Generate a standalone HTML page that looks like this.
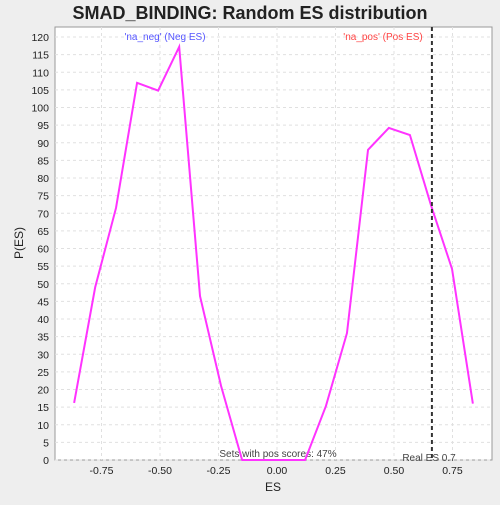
<!DOCTYPE html>
<html><head><meta charset="utf-8"><style>
body{margin:0;background:#eeeeee;font-family:"Liberation Sans","DejaVu Sans",sans-serif}
</style></head><body>
<svg width="500" height="500" xmlns="http://www.w3.org/2000/svg">
<rect x="0" y="0" width="500" height="500" fill="#eeeeee"/>
<text x="250" y="19" text-anchor="middle" font-size="18" font-weight="bold" fill="#222">SMAD_BINDING: Random ES distribution</text>
<rect x="55" y="27" width="437" height="433" fill="#fff" stroke="#999"/>
<g id="grid"></g><g id="yt"></g><g id="xt"></g>
<text x="165" y="40" text-anchor="middle" font-size="10" fill="#5555ff">'na_neg' (Neg ES)</text>
<text x="383" y="40" text-anchor="middle" font-size="10" fill="#ff4444">'na_pos' (Pos ES)</text>
<text x="278" y="457" text-anchor="middle" font-size="10" fill="#444">Sets with pos scores: 47%</text>
<text x="429" y="461" text-anchor="middle" font-size="10" fill="#444">Real ES 0.7</text>
<polyline id="line" fill="none" stroke="#ff33ff" stroke-width="2"/>
<line id="real" y1="27" y2="460" stroke="#333" stroke-width="2" stroke-dasharray="4,3"/>
<text x="273" y="491" text-anchor="middle" font-size="12" fill="#222">ES</text>
<text x="23" y="243" text-anchor="middle" font-size="12" fill="#222" transform="rotate(-90 23 243)">P(ES)</text>
</svg>
<script>
const esValues=[-0.867,-0.777,-0.688,-0.598,-0.508,-0.418,-0.329,-0.239,-0.149,-0.06,0.03,0.12,0.209,0.299,0.389,0.478,0.568,0.658,0.748,0.837];
const pValues=[16.2,49,71.5,107,104.8,117.2,46.5,21,0,0,0,0,15.3,36,88,94.2,92.2,72.3,54.2,16];
const xTicks=[-0.75,-0.5,-0.25,0,0.25,0.5,0.75];
const xTickLabels=["-0.75","-0.50","-0.25","0.00","0.25","0.50","0.75"];
const yTicks=[0,5,10,15,20,25,30,35,40,45,50,55,60,65,70,75,80,85,90,95,100,105,110,115,120];
const realES=0.662;
const NS="http://www.w3.org/2000/svg";
const X=v=>277+v*234, Y=v=>460-v*3.525;
function mk(t,a,p){const e=document.createElementNS(NS,t);for(const k in a)e.setAttribute(k,a[k]);p.appendChild(e);return e;}
const g=document.getElementById('grid'),yt=document.getElementById('yt'),xt=document.getElementById('xt');
yTicks.forEach(v=>{
 const l=mk('line',{x1:55,x2:492,y1:Y(v),y2:Y(v),stroke:'#e0e0e0','stroke-dasharray':'3,3'},g);
 
 
 const t=mk('text',{x:49,y:Y(v)+4,'text-anchor':'end','font-size':'10.5',fill:'#222'},yt);t.textContent=v;
 
 
});
xTicks.forEach((v,i)=>{
 const l=mk('line',{x1:X(v),x2:X(v),y1:27,y2:460,stroke:'#e0e0e0','stroke-dasharray':'3,3'},g);
 
 
 const t=mk('text',{x:X(v),y:474,'text-anchor':'middle','font-size':'10.5',fill:'#222'},xt);t.textContent=xTickLabels[i];
 
 
});
document.getElementById('line').setAttribute('points',esValues.map((v,i)=>X(v)+','+Y(pValues[i])).join(' '));
const r=document.getElementById('real');r.setAttribute('x1',X(realES));r.setAttribute('x2',X(realES));
</script>
</body></html>
